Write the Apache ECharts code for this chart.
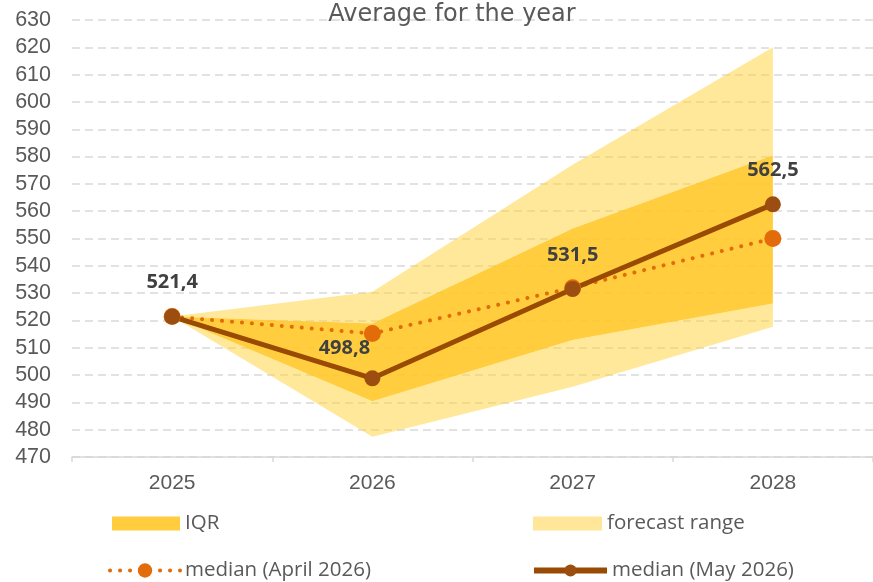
<!DOCTYPE html>
<html>
<head>
<meta charset="utf-8">
<script src="https://cdn.jsdelivr.net/npm/echarts@6/dist/echarts.min.js"></script>
<style>html,body{margin:0;padding:0;background:#fff}#c{width:873px;height:582px}</style>
</head>
<body>
<div id="c"></div>
<script>
var years = ['2025', '2026', '2027', '2028'];
var forecastLow  = [521.4, 477.4, 495.7, 517.7];
var iqrLow       = [521.4, 490.4, 512.8, 526.2];
var iqrHigh      = [521.4, 518.9, 553.7, 580.5];
var forecastHigh = [521.4, 530.5, 577.0, 620.0];
var medianApril  = [521.4, 515.2, 532.0, 550.0];
var medianMay    = [521.4, 498.8, 531.5, 562.5];
var yTicks = { min: 470, max: 630, step: 10 };

function diff(a, b) { return a.map(function (v, i) { return +(v - b[i]).toFixed(2); }); }

var FONT = '"Open Sans", sans-serif';
var AXFONT = '"Liberation Sans", Arial, sans-serif';
var LIGHT = 'rgba(255,214,70,0.55)';
var DARK = 'rgba(255,200,40,0.9)';

var chart = echarts.init(document.getElementById('c'), null, { renderer: 'canvas' });
var labelPos = [
  { offset: [0, -6] },
  { offset: [-28, -2] },
  { offset: [0, -6] },
  { offset: [0, -6] }
];
var legText = { fontFamily: FONT, fontSize: 20.5, color: '#595959' };
chart.setOption({
  animation: false,
  title: {
    text: 'Average for the year', left: 452, textAlign: 'center', top: 3, padding: 0,
    textStyle: { fontFamily: '"DejaVu Sans", sans-serif', fontSize: 24, fontWeight: 'normal', color: '#595959' }
  },
  grid: { left: 72, right: 0, top: 20, bottom: 125 },
  legend: [
    { left: 112, top: 513, padding: 0, itemWidth: 68, itemHeight: 14, itemGap: 8, textStyle: legText,
      data: [{ name: 'IQR', icon: 'rect', itemStyle: { color: '#FFCD3D', opacity: 1 } }] },
    { left: 533, top: 513, padding: 0, itemWidth: 69, itemHeight: 14, itemGap: 7, textStyle: legText,
      data: [{ name: 'forecast range', icon: 'rect', itemStyle: { color: '#FFE699', opacity: 1 } }] },
    { left: 108, top: 560, padding: 0, itemWidth: 70, itemHeight: 18, itemGap: 10, textStyle: legText,
      data: [{ name: 'median (April 2026)', lineStyle: { width: 4 } }] },
    { left: 531, top: 560, padding: 0, itemWidth: 73, itemHeight: 15, itemGap: 5, textStyle: legText,
      data: [{ name: 'median (May 2026)', lineStyle: { width: 6 } }] }
  ],
  xAxis: {
    type: 'category', data: years, boundaryGap: true,
    axisLine: { lineStyle: { color: '#D9D9D9', width: 1.5 } },
    axisTick: { show: true, length: 5, lineStyle: { color: '#D9D9D9', width: 1.5 } },
    axisLabel: { fontFamily: AXFONT, fontSize: 21, color: '#595959', margin: 16 }
  },
  yAxis: {
    type: 'value', min: yTicks.min, max: yTicks.max, interval: yTicks.step,
    axisLine: { show: false }, axisTick: { show: false },
    axisLabel: { fontFamily: AXFONT, fontSize: 21.5, color: '#595959', margin: 21 },
    splitLine: { lineStyle: { color: '#D9D9D9', width: 1.5, type: [8, 5] } }
  },
  series: [
    { name: 'base', type: 'line', stack: 'band', data: forecastLow, symbol: 'none',
      lineStyle: { width: 0, opacity: 0 }, silent: true },
    { name: 'forecast range', type: 'line', stack: 'band', data: diff(iqrLow, forecastLow), symbol: 'none',
      lineStyle: { width: 0, opacity: 0 }, itemStyle: { color: '#FFE699' }, areaStyle: { color: LIGHT, opacity: 1 } },
    { name: 'IQR', type: 'line', stack: 'band', data: diff(iqrHigh, iqrLow), symbol: 'none',
      lineStyle: { width: 0, opacity: 0 }, itemStyle: { color: '#FFCD3D' }, areaStyle: { color: DARK, opacity: 1 } },
    { name: 'forecast range', type: 'line', stack: 'band', data: diff(forecastHigh, iqrHigh), symbol: 'none',
      lineStyle: { width: 0, opacity: 0 }, itemStyle: { color: '#FFE699' }, areaStyle: { color: LIGHT, opacity: 1 } },
    { name: 'median (April 2026)', type: 'line', data: medianApril, symbol: 'circle', symbolSize: 17,
      itemStyle: { color: '#E36C0A' }, lineStyle: { color: '#E36C0A', width: 4, type: [0.1, 9.9], cap: 'round' } },
    { name: 'median (May 2026)', type: 'line', data: medianMay.map(function (v, i) {
        return { value: v, label: labelPos[i] };
      }), symbol: 'circle', symbolSize: 16,
      itemStyle: { color: '#9B4E10' }, lineStyle: { color: '#994A05', width: 5 },
      label: { show: true, position: 'top', distance: 10, fontFamily: FONT, fontSize: 20, fontWeight: 'bold', color: '#404040',
        formatter: function (p) { return String(p.value).replace('.', ','); } } }
  ]
});
</script>
</body>
</html>
